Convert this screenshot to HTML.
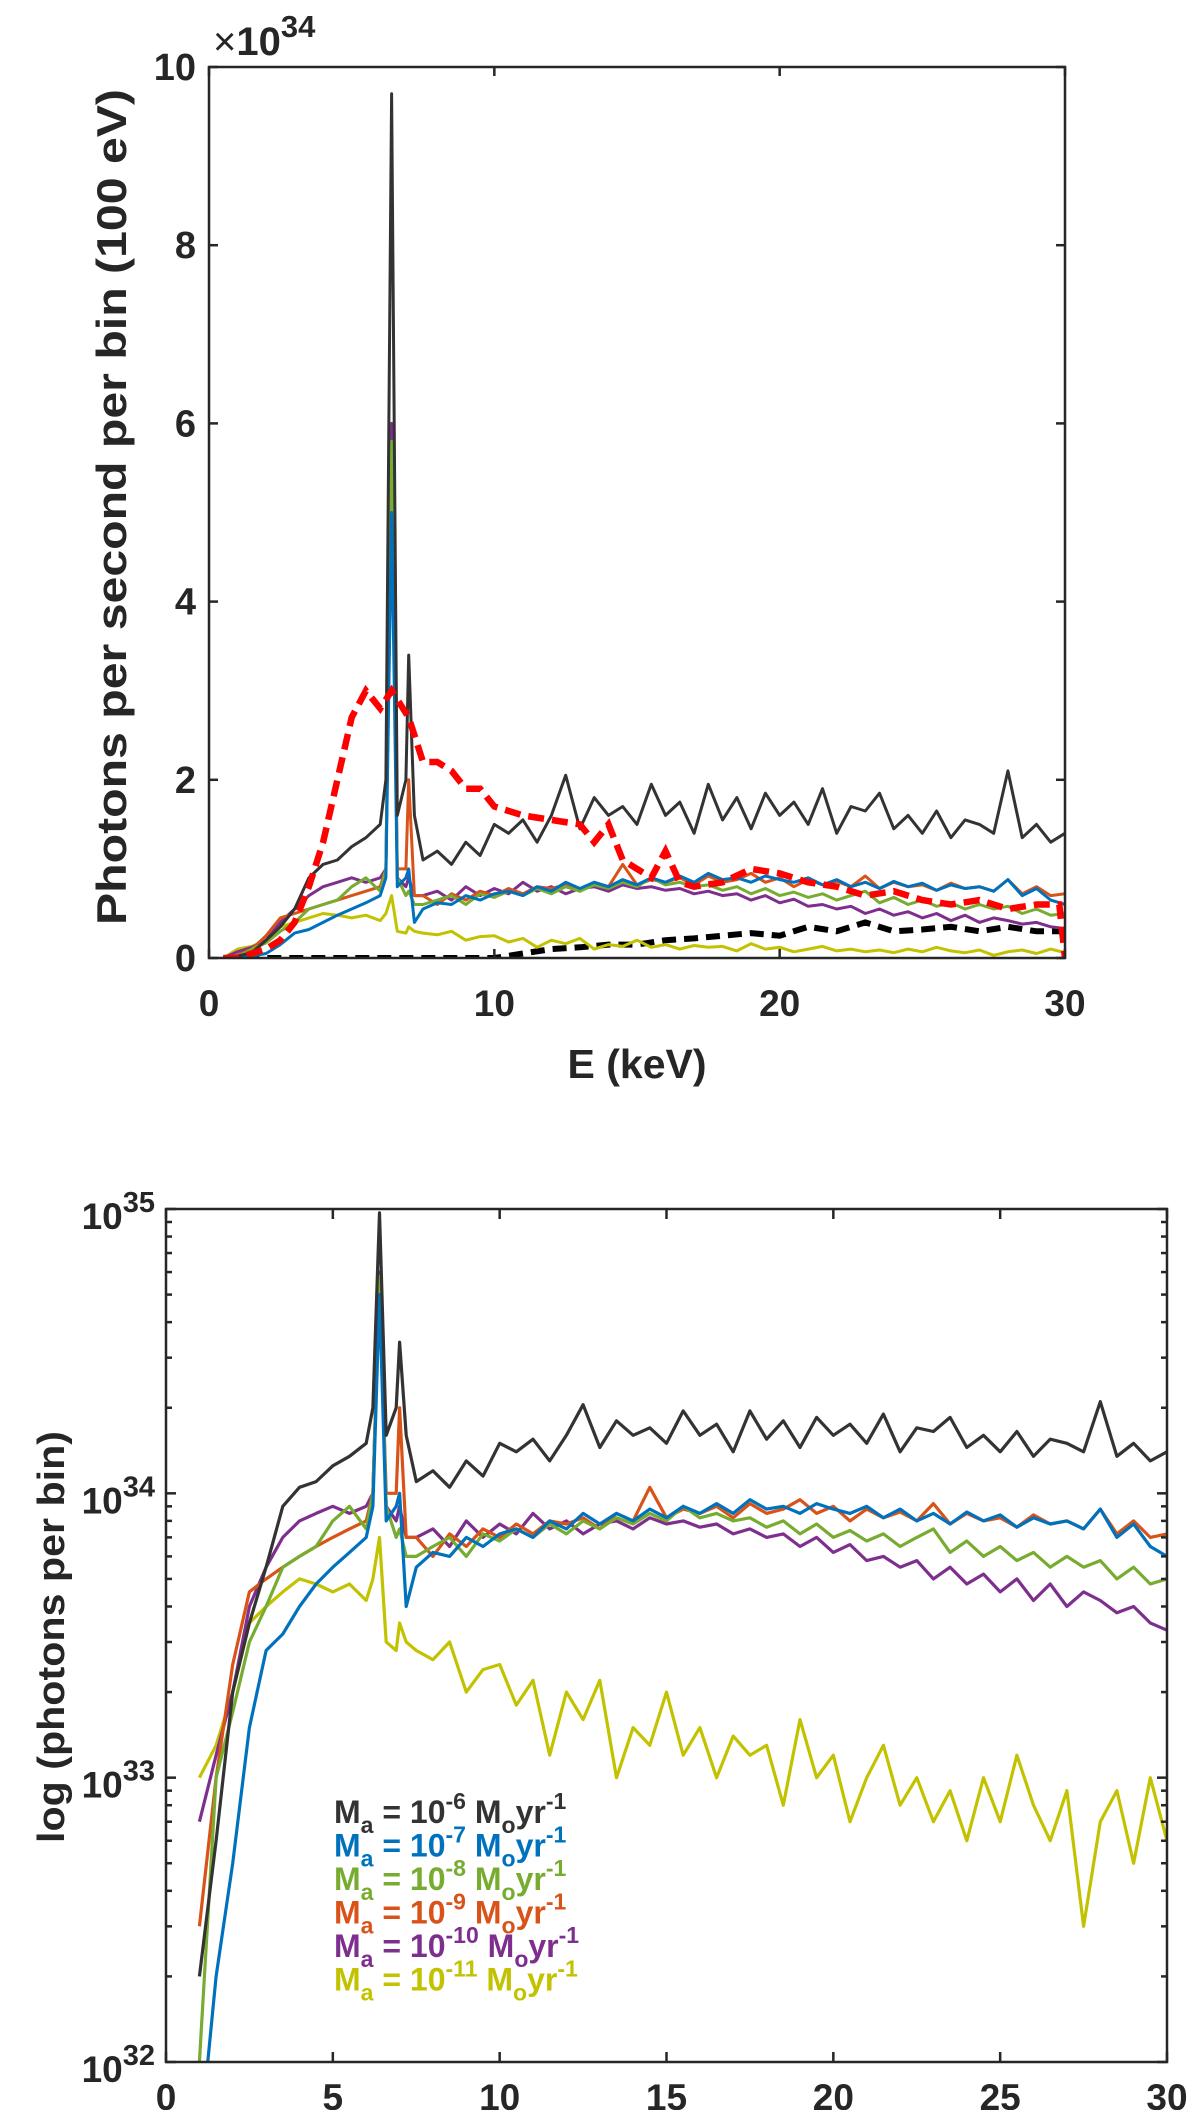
<!DOCTYPE html>
<html><head><meta charset="utf-8"><style>
html,body{margin:0;padding:0;background:#fff;}
svg{display:block;font-family:"Liberation Sans",Arial,sans-serif;font-weight:bold;}
</style></head><body>
<svg id="fig" width="1200" height="2110" viewBox="0 0 1200 2110">
<defs>
<clipPath id="clipTop"><rect x="209" y="67" width="856" height="891"/></clipPath>
<clipPath id="clipBot"><rect x="166" y="1209" width="1001" height="853"/></clipPath>
</defs>
<g id="topChart"></g>
<g id="botChart"></g>
</svg>
<script>
// ----- data (photons per bin, units of 1e34) -----
const energies = [1,1.5,2,2.5,3,3.5,4,4.5,5,5.5,6,6.2,6.4,6.6,6.9,7.0,7.2,7.5,8,8.5,9,9.5,10,10.5,11,11.5,12,12.5,13,13.5,14,14.5,15,15.5,16,16.5,17,17.5,18,18.5,19,19.5,20,20.5,21,21.5,22,22.5,23,23.5,24,24.5,25,25.5,26,26.5,27,27.5,28,28.5,29,29.5,30];
const seriesM6 = [0.02,0.06,0.2,0.35,0.55,0.9,1.05,1.1,1.25,1.35,1.5,2.0,9.7,1.6,2.0,3.4,1.6,1.1,1.2,1.05,1.3,1.15,1.5,1.4,1.55,1.3,1.6,2.05,1.45,1.8,1.6,1.7,1.5,1.95,1.6,1.75,1.4,1.95,1.55,1.8,1.45,1.85,1.6,1.75,1.5,1.9,1.4,1.7,1.65,1.85,1.45,1.6,1.4,1.65,1.35,1.55,1.5,1.4,2.1,1.35,1.5,1.3,1.4];
const seriesM7 = [0.005,0.02,0.05,0.15,0.28,0.32,0.4,0.48,0.55,0.62,0.7,0.9,5.0,0.8,0.9,1.0,0.4,0.55,0.62,0.6,0.7,0.65,0.72,0.75,0.7,0.8,0.75,0.85,0.78,0.85,0.8,0.88,0.82,0.9,0.85,0.92,0.85,0.95,0.88,0.9,0.85,0.92,0.88,0.85,0.9,0.82,0.88,0.8,0.85,0.78,0.86,0.8,0.84,0.76,0.82,0.78,0.8,0.75,0.88,0.7,0.78,0.65,0.6];
const seriesM8 = [0.01,0.1,0.17,0.3,0.4,0.55,0.6,0.65,0.8,0.9,0.75,1.0,5.8,0.9,0.7,0.75,0.6,0.6,0.65,0.7,0.6,0.72,0.68,0.75,0.7,0.78,0.72,0.8,0.75,0.82,0.78,0.85,0.8,0.9,0.82,0.85,0.8,0.82,0.76,0.8,0.72,0.78,0.7,0.74,0.68,0.72,0.65,0.7,0.75,0.62,0.68,0.6,0.65,0.58,0.62,0.55,0.6,0.55,0.58,0.5,0.55,0.48,0.5];
const seriesM9 = [0.03,0.1,0.25,0.45,0.5,0.55,0.6,0.65,0.7,0.75,0.8,1.0,5.5,1.0,1.0,2.0,0.7,0.7,0.6,0.72,0.65,0.75,0.7,0.78,0.72,0.8,0.78,0.82,0.75,0.85,0.8,1.05,0.82,0.88,0.85,0.9,0.82,0.92,0.85,0.88,0.95,0.85,0.9,0.8,0.88,0.82,0.86,0.8,0.92,0.78,0.85,0.8,0.82,0.76,0.84,0.78,0.8,0.75,0.88,0.72,0.8,0.7,0.72];
const seriesM10 = [0.07,0.12,0.2,0.4,0.55,0.7,0.8,0.85,0.9,0.85,0.9,1.0,6.0,0.9,0.8,0.9,0.7,0.7,0.75,0.65,0.8,0.7,0.78,0.72,0.85,0.75,0.8,0.72,0.78,0.8,0.75,0.82,0.78,0.8,0.76,0.78,0.72,0.75,0.7,0.72,0.65,0.7,0.62,0.66,0.58,0.6,0.55,0.58,0.5,0.55,0.48,0.52,0.45,0.5,0.42,0.48,0.4,0.45,0.42,0.38,0.4,0.35,0.33];
const seriesM11 = [0.1,0.13,0.2,0.35,0.4,0.45,0.5,0.48,0.45,0.48,0.42,0.5,0.7,0.3,0.28,0.35,0.3,0.28,0.26,0.3,0.2,0.24,0.25,0.18,0.22,0.12,0.2,0.16,0.22,0.1,0.15,0.13,0.2,0.12,0.15,0.1,0.14,0.12,0.13,0.08,0.16,0.1,0.12,0.07,0.1,0.13,0.08,0.1,0.07,0.09,0.06,0.1,0.07,0.12,0.08,0.06,0.09,0.03,0.07,0.09,0.05,0.1,0.06];
const redEnergies = [0.5,1,1.5,2,2.5,3,3.5,4,4.5,5,5.5,6,6.4,7,7.5,8,8.5,9,9.5,10,11,12,13,13.5,14,14.5,15,15.5,16,16.5,17,18,19,20,21,22,23,24,25,26,27,28,29,29.8,30];
const redDashed = [0,0,0.05,0.1,0.2,0.4,0.8,1.3,2.0,2.7,3.0,2.8,3.0,2.7,2.2,2.2,2.1,1.9,1.9,1.7,1.6,1.55,1.5,1.3,1.5,1.1,1.0,0.9,1.2,0.85,0.8,0.85,1.0,0.95,0.85,0.8,0.7,0.75,0.65,0.6,0.65,0.55,0.6,0.6,0];
const blackEnergies = [0.5,2,4,6,8,10,11,12,13,14,15,16,17,18,19,20,21,22,23,24,25,26,27,28,29,30];
const blackDashed = [0,0,0,0,0,0,0.05,0.1,0.12,0.15,0.15,0.2,0.22,0.25,0.28,0.25,0.35,0.3,0.4,0.3,0.32,0.35,0.3,0.35,0.3,0.3];
const linTicksX = [0,10,20,30];
const linTicksY = [0,2,4,6,8,10];
const logTicksX = [0,5,10,15,20,25,30];
const logDecades = [32,33,34,35];
const legendExps = ['-6','-7','-8','-9','-10','-11'];

const NS='http://www.w3.org/2000/svg';
function mk(tag, attrs, parent){const e=document.createElementNS(NS,tag);for(const k in attrs)e.setAttribute(k,attrs[k]);parent.appendChild(e);return e;}
const colors=['#333333','#0072BD','#77AC30','#D95319','#7E2F8E','#C2C200'];
const seriesAll=[seriesM6,seriesM7,seriesM8,seriesM9,seriesM10,seriesM11];
const seriesNames=['series-1e-6','series-1e-7','series-1e-8','series-1e-9','series-1e-10','series-1e-11'];
function pathFrom(xs,ys,fx,fy){let d='';const n=Math.min(xs.length,ys.length);for(let i=0;i<n;i++){d+=(i?'L':'M')+fx(xs[i]).toFixed(1)+' '+fy(ys[i]).toFixed(1);}return d;}

// ===== top linear chart =====
const T={x0:209,x1:1065,y0:67,y1:958};
const tx=v=>T.x0+(v/30)*(T.x1-T.x0);
const ty=v=>T.y1-(v/10)*(T.y1-T.y0);
const topG=document.getElementById('topChart');
const tg=mk('g',{'clip-path':'url(#clipTop)'},topG);


let p=mk('path',{d:pathFrom(blackEnergies,blackDashed,tx,ty),fill:'none',stroke:'#000','stroke-width':6,'stroke-dasharray':'14 8'},tg);


for(let s=5;s>=0;s--){
  const e0=[0.5].concat(energies), v0=[0].concat(seriesAll[s]);
  const el=mk('path',{d:pathFrom(e0,v0,tx,ty),fill:'none',stroke:colors[s],'stroke-width':3,'stroke-linejoin':'round'},tg);
  
  
}
p=mk('path',{d:pathFrom(redEnergies,redDashed,tx,ty),fill:'none',stroke:'#ff0000','stroke-width':6.5,'stroke-dasharray':'16 8'},tg);


let r=mk('rect',{x:T.x0,y:T.y0,width:T.x1-T.x0,height:T.y1-T.y0,fill:'none',stroke:'#262626','stroke-width':2.5},topG);


linTicksX.forEach(v=>{
  const x=tx(v);
  mk('line',{x1:x,y1:T.y1,x2:x,y2:T.y1-9,stroke:'#262626','stroke-width':2.5},topG);
  mk('line',{x1:x,y1:T.y0,x2:x,y2:T.y0+9,stroke:'#262626','stroke-width':2.5},topG);
  const t=mk('text',{x:x,y:1016,'text-anchor':'middle','font-size':37,fill:'#262626'},topG);
  t.textContent=v;
  
  
});
linTicksY.forEach(v=>{
  const y=ty(v);
  mk('line',{x1:T.x0,y1:y,x2:T.x0+9,y2:y,stroke:'#262626','stroke-width':2.5},topG);
  mk('line',{x1:T.x1,y1:y,x2:T.x1-9,y2:y,stroke:'#262626','stroke-width':2.5},topG);
  const t=mk('text',{x:196,y:y+13,'text-anchor':'end','font-size':38,fill:'#262626'},topG);
  t.textContent=v;
  
  
});
let tt=mk('text',{x:213,y:55,'font-size':40,fill:'#262626'},topG);
tt.innerHTML='<tspan font-weight="normal">×</tspan>10<tspan dy="-18" font-size="31">34</tspan>';


tt=mk('text',{x:637,y:1078,'text-anchor':'middle','font-size':41,fill:'#262626'},topG);
tt.textContent='E (keV)';


tt=mk('text',{x:0,y:0,'text-anchor':'middle','font-size':42,fill:'#262626',transform:'translate(126,507) rotate(-90)',textLength:836,lengthAdjust:'spacingAndGlyphs'},topG);
tt.textContent='Photons per second per bin (100 eV)';



// ===== bottom log chart =====
const B={x0:166,x1:1167,y0:1209,y1:2062};
const bx=v=>B.x0+(v/30)*(B.x1-B.x0);
const by=v=>{const lv=Math.log10(Math.max(v,1e-6)*1e34);return B.y1-(lv-32)/3*(B.y1-B.y0);};
const botG=document.getElementById('botChart');
const bg=mk('g',{'clip-path':'url(#clipBot)'},botG);


for(let s=5;s>=0;s--){
  const el=mk('path',{d:pathFrom(energies,seriesAll[s],bx,by),fill:'none',stroke:colors[s],'stroke-width':3.2,'stroke-linejoin':'round'},bg);
  
  
}
r=mk('rect',{x:B.x0,y:B.y0,width:B.x1-B.x0,height:B.y1-B.y0,fill:'none',stroke:'#262626','stroke-width':2.5},botG);


logTicksX.forEach(v=>{
  const x=bx(v);
  mk('line',{x1:x,y1:B.y1,x2:x,y2:B.y1-10,stroke:'#262626','stroke-width':2.5},botG);
  mk('line',{x1:x,y1:B.y0,x2:x,y2:B.y0+10,stroke:'#262626','stroke-width':2.5},botG);
  const t=mk('text',{x:x,y:2110,'text-anchor':'middle','font-size':37,fill:'#262626'},botG);
  t.textContent=v;
  
  
});
logDecades.forEach((d,i)=>{
  const y=B.y1-(d-32)/3*(B.y1-B.y0);
  mk('line',{x1:B.x0,y1:y,x2:B.x0+10,y2:y,stroke:'#262626','stroke-width':2.5},botG);
  mk('line',{x1:B.x1,y1:y,x2:B.x1-10,y2:y,stroke:'#262626','stroke-width':2.5},botG);
  if(i<3){for(let m=2;m<=9;m++){const ym=y-Math.log10(m)/3*(B.y1-B.y0);
    mk('line',{x1:B.x0,y1:ym,x2:B.x0+6,y2:ym,stroke:'#262626','stroke-width':2.5},botG);
    mk('line',{x1:B.x1,y1:ym,x2:B.x1-6,y2:ym,stroke:'#262626','stroke-width':2.5},botG);}}
  const t=mk('text',{x:155,y:y+20,'text-anchor':'end','font-size':37,fill:'#262626'},botG);
  t.innerHTML='10<tspan dy="-17" font-size="29">'+d+'</tspan>';
  
  
});
tt=mk('text',{x:0,y:0,'text-anchor':'middle','font-size':38,fill:'#262626',transform:'translate(64,1637) rotate(-90)',textLength:412,lengthAdjust:'spacingAndGlyphs'},botG);
tt.textContent='log (photons per bin)';


const lg=mk('g',{},botG);


legendExps.forEach((ex,i)=>{
  const y=1823+i*33.5;
  const t=mk('text',{x:334,y:y,'font-size':32,fill:colors[i]},lg);
  t.innerHTML='M<tspan dy="10" font-size="23">a</tspan><tspan dy="-10"> = 10</tspan><tspan dy="-14" font-size="23">'+ex+'</tspan><tspan dy="14"> M</tspan><tspan dy="10" font-size="23">o</tspan><tspan dy="-10">yr</tspan><tspan dy="-14" font-size="23">-1</tspan>';
  
  
});
</script>
</body></html>
